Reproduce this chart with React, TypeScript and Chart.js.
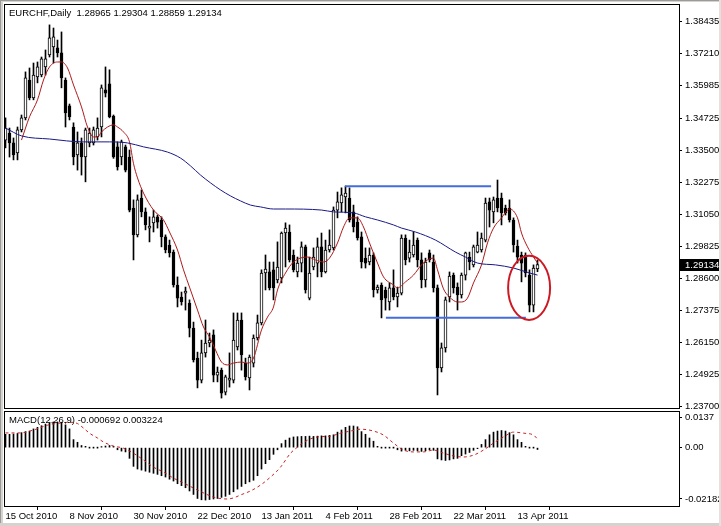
import React, { useEffect, useRef } from 'react';
import { Chart, registerables } from 'chart.js';

Chart.register(...registerables);

const SYMBOL = 'EURCHF';
const TIMEFRAME = 'Daily';
const MACD_NAME = 'MACD(12,26,9)';

const OPEN = [
  1.3390, 1.3417, 1.3379, 1.3341, 1.3429, 1.3475, 1.3620, 1.3551, 1.3632, 1.3639,
  1.3670, 1.3716, 1.3747, 1.3743, 1.3724, 1.3620, 1.3521, 1.3440, 1.3333, 1.3379,
  1.3325, 1.3379, 1.3379, 1.3402, 1.3440, 1.3582, 1.3605, 1.3482, 1.3364, 1.3325,
  1.3364, 1.3325, 1.3130, 1.3027, 1.3168, 1.3115, 1.3053, 1.3073, 1.3096, 1.3084,
  1.3019, 1.2988, 1.2961, 1.2835, 1.2789, 1.2804, 1.2766, 1.2670, 1.2555, 1.2471,
  1.2575, 1.2613, 1.2644, 1.2490, 1.2509, 1.2425, 1.2471, 1.2471, 1.2598, 1.2701,
  1.2536, 1.2479, 1.2536, 1.2632, 1.2690, 1.2881, 1.2885, 1.2893, 1.2854, 1.2862,
  1.3034, 1.3038, 1.2950, 1.2885, 1.2919, 1.2981, 1.2785, 1.2904, 1.2919, 1.2981,
  1.2885, 1.2969, 1.2977, 1.3122, 1.3149, 1.3172, 1.3168, 1.3115, 1.3076, 1.3019,
  1.2938, 1.2923, 1.2950, 1.2816, 1.2835, 1.2816, 1.2770, 1.2824, 1.2789, 1.2804,
  1.3015, 1.2938, 1.2950, 1.3007, 1.2931, 1.2854, 1.2958, 1.2923, 1.2824, 1.2517,
  1.2594, 1.2789, 1.2873, 1.2827, 1.2797, 1.2873, 1.2942, 1.2912, 1.2961, 1.2969,
  1.3007, 1.3153, 1.3115, 1.3168, 1.3168, 1.3130, 1.3130, 1.3084, 1.2984, 1.2950,
  1.2950, 1.2873, 1.2758, 1.28965,
];
const HIGH = [
  1.3475, 1.3436, 1.3398, 1.3440, 1.3486, 1.3651, 1.3666, 1.3685, 1.3689, 1.3708,
  1.3735, 1.3831, 1.3819, 1.3773, 1.3804, 1.3628, 1.3528, 1.3456, 1.3421, 1.3398,
  1.3436, 1.3436, 1.3440, 1.3475, 1.3601, 1.3670, 1.3659, 1.3486, 1.3383, 1.3390,
  1.3371, 1.3352, 1.3161, 1.3180, 1.3199, 1.3130, 1.3096, 1.3122, 1.3103, 1.3096,
  1.3027, 1.3007, 1.2969, 1.2866, 1.2808, 1.2827, 1.2778, 1.2693, 1.2578, 1.2624,
  1.2701, 1.2651, 1.2663, 1.2521, 1.2517, 1.2490, 1.2575, 1.2728, 1.2728, 1.2728,
  1.2555, 1.2567, 1.2644, 1.2720, 1.2893, 1.2950, 1.2923, 1.2923, 1.3000, 1.3038,
  1.3073, 1.3065, 1.2969, 1.2942, 1.3000, 1.2988, 1.2942, 1.2977, 1.3015, 1.3034,
  1.3007, 1.3046, 1.3134, 1.3191, 1.3207, 1.3214, 1.3207, 1.3141, 1.3096, 1.3038,
  1.2977, 1.2977, 1.2958, 1.2835, 1.2843, 1.2827, 1.2843, 1.2893, 1.2827, 1.3027,
  1.3027, 1.3007, 1.3038, 1.3015, 1.2958, 1.2938, 1.2969, 1.2950, 1.2835, 1.2613,
  1.2789, 1.2885, 1.2881, 1.2843, 1.2881, 1.2961, 1.2961, 1.2988, 1.3038, 1.3034,
  1.3168, 1.3168, 1.3172, 1.3237, 1.3187, 1.3141, 1.3161, 1.3092, 1.3007, 1.2961,
  1.2958, 1.2893, 1.2912, 1.29304,
];
const LOW = [
  1.3360, 1.3325, 1.3314, 1.3314, 1.3421, 1.3467, 1.3544, 1.3544, 1.3609, 1.3632,
  1.3639, 1.3708, 1.3685, 1.3708, 1.3590, 1.3440, 1.3467, 1.3295, 1.3275, 1.3256,
  1.3230, 1.3364, 1.3371, 1.3390, 1.3402, 1.3555, 1.3475, 1.3320, 1.3275, 1.3295,
  1.3268, 1.3115, 1.2931, 1.3019, 1.3096, 1.3046, 1.3000, 1.3038, 1.3053, 1.2981,
  1.2958, 1.2942, 1.2827, 1.2751, 1.2758, 1.2739, 1.2636, 1.2540, 1.2441, 1.2460,
  1.2559, 1.2598, 1.2464, 1.2464, 1.2402, 1.2414, 1.2444, 1.2460, 1.2586, 1.2509,
  1.2471, 1.2433, 1.2521, 1.2624, 1.2682, 1.2816, 1.2816, 1.2778, 1.2843, 1.2843,
  1.2904, 1.2923, 1.2885, 1.2866, 1.2885, 1.2804, 1.2778, 1.2893, 1.2866, 1.2866,
  1.2881, 1.2961, 1.2969, 1.3092, 1.3115, 1.3111, 1.3076, 1.3038, 1.3007, 1.2900,
  1.2900, 1.2912, 1.2789, 1.2804, 1.2709, 1.2739, 1.2739, 1.2778, 1.2751, 1.2797,
  1.2912, 1.2923, 1.2942, 1.2904, 1.2824, 1.2827, 1.2923, 1.2808, 1.2414, 1.2502,
  1.2578, 1.2770, 1.2804, 1.2739, 1.2785, 1.2854, 1.2893, 1.2904, 1.2958, 1.2961,
  1.3000, 1.3057, 1.3073, 1.3115, 1.3065, 1.3103, 1.3076, 1.2961, 1.2919, 1.2847,
  1.2866, 1.2732, 1.2732, 1.28859,
];
const CLOSE = [
  1.3436, 1.3379, 1.3333, 1.3429, 1.3475, 1.3628, 1.3551, 1.3639, 1.3670, 1.3701,
  1.3701, 1.3781, 1.3785, 1.3724, 1.3628, 1.3494, 1.3479, 1.3325, 1.3379, 1.3325,
  1.3429, 1.3417, 1.3429, 1.3436, 1.3590, 1.3570, 1.3479, 1.3325, 1.3287, 1.3383,
  1.3275, 1.3122, 1.3027, 1.3161, 1.3115, 1.3065, 1.3061, 1.3096, 1.3076, 1.3019,
  1.2969, 1.2958, 1.2835, 1.2785, 1.2770, 1.2812, 1.2670, 1.2548, 1.2471, 1.2575,
  1.2613, 1.2624, 1.2490, 1.2502, 1.2421, 1.2483, 1.2479, 1.2624, 1.2701, 1.2567,
  1.2483, 1.2559, 1.2632, 1.2690, 1.2881, 1.2896, 1.2824, 1.2824, 1.2904, 1.3034,
  1.3053, 1.2931, 1.2893, 1.2919, 1.2981, 1.2816, 1.2881, 1.2942, 1.2981, 1.2885,
  1.2969, 1.2988, 1.3122, 1.3153, 1.3180, 1.3187, 1.3084, 1.3057, 1.3015, 1.2923,
  1.2919, 1.2950, 1.2816, 1.2827, 1.2778, 1.2785, 1.2824, 1.2789, 1.2804, 1.3015,
  1.2931, 1.2961, 1.2988, 1.2931, 1.2854, 1.2923, 1.2931, 1.2824, 1.2517, 1.2594,
  1.2778, 1.2869, 1.2824, 1.2797, 1.2873, 1.2958, 1.2923, 1.2981, 1.2988, 1.3015,
  1.3149, 1.3122, 1.3161, 1.3130, 1.3111, 1.3111, 1.3084, 1.2988, 1.2942, 1.2919,
  1.2881, 1.2758, 1.2900, 1.29134,
];

// fast moving average (red), read at sample bars
const RED_MA_BAR = [
  4, 5, 6, 8, 9.5, 11, 13, 14, 15.5, 17, 19, 20.5, 22, 23, 24, 25.5, 27, 28, 29.5, 31,
  32, 33, 34.5, 37, 39.5, 41, 43, 44.5, 46, 48, 49.5, 51, 52.5, 54, 55.5, 57, 59, 60.5, 62, 64,
  65.5, 67, 68, 70, 72, 75.5, 77.5, 79.5, 81, 83, 84.5, 86, 88, 89.5, 91, 93, 94.5, 97, 98, 100,
  102, 104, 105.5, 107, 108, 109.5, 111, 113, 114, 115.5, 117, 119, 120.5, 122, 124, 125.5, 126, 128, 129, 130.5,
  132, 133,
];
const RED_MA_VAL = [
  1.3390, 1.3436, 1.3479, 1.3544, 1.3620, 1.3670, 1.3689, 1.3689, 1.3666, 1.3601,
  1.3517, 1.3440, 1.3402, 1.3402, 1.3421, 1.3440, 1.3448, 1.3440, 1.3421, 1.3383,
  1.3300, 1.3245, 1.3187, 1.3122, 1.3084, 1.3038, 1.2969, 1.2893, 1.2827, 1.2739,
  1.2674, 1.2636, 1.2586, 1.2540, 1.2529, 1.2536, 1.2540, 1.2536, 1.2555, 1.2663,
  1.2712, 1.2751, 1.2816, 1.2881, 1.2923, 1.2942, 1.2931, 1.2923, 1.2938, 1.2996,
  1.3057, 1.3092, 1.3092, 1.3057, 1.2996, 1.2919, 1.2866, 1.2835, 1.2824, 1.2847,
  1.2873, 1.2912, 1.2931, 1.2938, 1.2893, 1.2820, 1.2789, 1.2770, 1.2770, 1.2785,
  1.2843, 1.2912, 1.2996, 1.3053, 1.3092, 1.3122, 1.3126, 1.3092, 1.3034, 1.2981,
  1.2942, 1.2919,
];

// slow moving average (navy), read at sample bars
const BLUE_MA_BAR = [
  0, 4, 11, 19.5, 26, 30.5, 34.5, 40.5, 43.75, 46.25, 48.75, 51.25, 53.75, 56.25, 58.75,
  61.25, 63.75, 67, 70, 79, 82, 87, 90, 93, 97, 99, 102.5, 107.5, 112.5, 115, 118, 122.5,
  127, 131, 133,
];
const BLUE_MA_VAL = [
  1.3436, 1.3406, 1.3394, 1.3383, 1.3383, 1.3379, 1.3364, 1.3344, 1.3321, 1.3291,
  1.3256, 1.3226, 1.3199, 1.3176, 1.3157, 1.3141, 1.3134, 1.3126, 1.3126, 1.3122,
  1.3115, 1.3111, 1.3096, 1.3084, 1.3065, 1.3053, 1.3038, 1.3007, 1.2961, 1.2942,
  1.2919, 1.2912, 1.2900, 1.2881, 1.2873,
];

// hand-drawn horizontal lines
const RESISTANCE_BARS = [84.9, 121.4];
const RESISTANCE_PRICE = 1.3213;
const SUPPORT_BARS = [95.1, 130.1];
const SUPPORT_PRICE = 1.2710;

// hand-drawn ellipse
const ELLIPSE_CENTER_BAR = 130.9;
const ELLIPSE_CENTER_PRICE = 1.2824;
const ELLIPSE_HALF_BARS = 5.25;
const ELLIPSE_HALF_PRICE = 0.01226;

const PRICE_MIN = 1.2364;
const PRICE_MAX = 1.3911;
const PRICE_TICKS = [
  1.38435, 1.3721, 1.35985, 1.34725, 1.335, 1.32275, 1.3105, 1.29825, 1.286, 1.27375,
  1.2615, 1.24925, 1.237,
];
const PRICE_TICK_LABELS = [
  '1.38435', '1.37210', '1.35985', '1.34725', '1.33500', '1.32275', '1.31050', '1.29825',
  '1.28600', '1.27375', '1.26150', '1.24925', '1.23700',
];

const DATE_TICK_BARS = [0, 16, 32, 48, 64, 80, 96, 112, 128];
const DATE_LABELS = [
  '15 Oct 2010', '8 Nov 2010', '30 Nov 2010', '22 Dec 2010', '13 Jan 2011', '4 Feb 2011',
  '28 Feb 2011', '22 Mar 2011', '13 Apr 2011',
];

const MACD_HIST = [
  0.0050, 0.0050, 0.0051, 0.0053, 0.0056, 0.0060, 0.0062, 0.0070, 0.0076, 0.0082,
  0.0088, 0.0093, 0.0096, 0.0096, 0.0095, 0.0085, 0.0070, 0.0030, 0.0020, 0.0008,
  0.0005, 0.0001, -0.0002, 0.0002, 0.0004, 0.0006, 0.0008, 0.0005, -0.0008, -0.0013,
  -0.0016, -0.0040, -0.0070, -0.0080, -0.0084, -0.0088, -0.0092, -0.0096, -0.0100, -0.0105,
  -0.0110, -0.0118, -0.0125, -0.0135, -0.0142, -0.0150, -0.0162, -0.0175, -0.0190, -0.0195,
  -0.0196, -0.0194, -0.0192, -0.0190, -0.0186, -0.0182, -0.0175, -0.0165, -0.0155, -0.0145,
  -0.0135, -0.0128, -0.0122, -0.0105, -0.0080, -0.0060, -0.0045, -0.0025, -0.0008, 0.0015,
  0.0028, 0.0036, 0.0040, 0.0041, 0.0042, 0.0042, 0.0043, 0.0042, 0.0043, 0.0044,
  0.0044, 0.0046, 0.0048, 0.0058, 0.0066, 0.0076, 0.0081, 0.0081, 0.0078, 0.0060,
  0.0050, 0.0036, 0.0024, 0.0005, 0.0003, 0.0002, 0.0002, 0.0001, -0.0008, -0.0013,
  -0.0010, -0.0012, -0.0010, -0.0012, -0.0014, -0.0012, -0.0008, -0.0010, -0.0042, -0.0046,
  -0.0048, -0.0046, -0.0042, -0.0040, -0.0030, -0.0024, -0.0018, -0.0010, -0.0004, 0.0012,
  0.0030, 0.0048, 0.0058, 0.0062, 0.0064, 0.0062, 0.0056, 0.0048, 0.0030, 0.0020,
  0.0005, 0.0002, 0.0003, -0.000692,
];
const MACD_SIGNAL_BAR = [
  0, 3.75, 7, 10.5, 13.75, 16, 18, 19.5, 21, 23, 24.5, 27, 29.5, 32, 34.5, 37, 39.5, 42, 44.5, 47,
  49.6, 52, 55.4, 57, 58.75, 61.25, 63.75, 66.25, 68.75, 71.25, 73, 75.5, 78, 81.25, 83.75,
  86.25, 88.75, 92, 94.5, 97, 99.5, 102, 104.5, 107, 109.6, 112, 114.5, 117, 119.5, 122,
  124.5, 127, 129.6, 132, 133,
];
const MACD_SIGNAL_VAL = [
  0.0055, 0.0055, 0.0066, 0.0084, 0.0092, 0.0095, 0.0090, 0.0073, 0.0054, 0.0036,
  0.0021, 0.0006, -0.0002, -0.0021, -0.0046, -0.0073, -0.0091, -0.0114, -0.0132, -0.0151,
  -0.0170, -0.0185, -0.0192, -0.0188, -0.0177, -0.0162, -0.0140, -0.0110, -0.0073, -0.0021,
  0.0002, 0.0028, 0.0040, 0.0043, 0.0054, 0.0062, 0.0069, 0.0062, 0.0047, 0.0017,
  -0.0009, -0.0016, -0.0016, -0.0009, -0.0021, -0.0031, -0.0035, -0.0028, -0.0009, 0.0017,
  0.0040, 0.0058, 0.0054, 0.0047, 0.003224,
];
const MACD_MAX = 0.0137;
const MACD_MIN = -0.02182;
const MACD_TICK_LABELS = ['0.0137', '0.00', '-0.02182'];

// visible bar window (4 px per bar across the 675 px plot)
const X_MIN = -0.375;
const X_MAX = 168.375;

const FONT_FAMILY = '"Liberation Sans", Arial, sans-serif';
const FONT = { family: FONT_FAMILY, size: 9.5 };
const AXIS_WIDTH = 42;

const framePlugin = {
  id: 'frame',
  afterDatasetsDraw(chart: any) {
    const { ctx, chartArea } = chart;
    ctx.save();
    ctx.strokeStyle = '#000';
    ctx.lineWidth = 1;
    ctx.strokeRect(chartArea.left + 0.5, chartArea.top + 0.5, chartArea.right - chartArea.left, chartArea.bottom - chartArea.top);
    ctx.restore();
  },
};

const ellipsePlugin = {
  id: 'ellipseMark',
  afterDatasetsDraw(chart: any) {
    const { ctx, scales } = chart;
    const cx = scales.x.getPixelForValue(ELLIPSE_CENTER_BAR);
    const cy = scales.y.getPixelForValue(ELLIPSE_CENTER_PRICE);
    const rx = Math.abs(scales.x.getPixelForValue(ELLIPSE_CENTER_BAR + ELLIPSE_HALF_BARS) - cx);
    const ry = Math.abs(scales.y.getPixelForValue(ELLIPSE_CENTER_PRICE + ELLIPSE_HALF_PRICE) - cy);
    ctx.save();
    ctx.strokeStyle = 'rgb(205,25,35)';
    ctx.lineWidth = 2;
    ctx.beginPath();
    ctx.ellipse(cx, cy, rx, ry, 0, 0, Math.PI * 2);
    ctx.stroke();
    ctx.restore();
  },
};

const lastPricePlugin = {
  id: 'lastPrice',
  afterDraw(chart: any) {
    const { ctx, chartArea, scales } = chart;
    const v = CLOSE[CLOSE.length - 1];
    const y = Math.round(scales.y.getPixelForValue(v));
    ctx.save();
    ctx.fillStyle = '#000';
    ctx.fillRect(chartArea.right + 1, y - 6, chart.width - chartArea.right - 1, 12);
    ctx.fillStyle = '#fff';
    ctx.font = `${FONT.size}px ${FONT_FAMILY}`;
    ctx.textAlign = 'left';
    ctx.textBaseline = 'middle';
    ctx.fillText(v.toFixed(5), chartArea.right + 6, y);
    ctx.restore();
  },
};

function mainConfig(): any {
  const bodyColors = CLOSE.map((c, i) => (c >= OPEN[i] ? '#ffffff' : '#000000'));
  return {
    type: 'bar',
    data: {
      datasets: [
        {
          type: 'line',
          data: [
            { x: RESISTANCE_BARS[0], y: RESISTANCE_PRICE },
            { x: RESISTANCE_BARS[1], y: RESISTANCE_PRICE },
          ],
          borderColor: 'rgb(68,108,218)',
          borderWidth: 2,
          pointRadius: 0,
          order: -3,
        },
        {
          type: 'line',
          data: [
            { x: SUPPORT_BARS[0], y: SUPPORT_PRICE },
            { x: SUPPORT_BARS[1], y: SUPPORT_PRICE },
          ],
          borderColor: 'rgb(68,108,218)',
          borderWidth: 2,
          pointRadius: 0,
          order: -3,
        },
        {
          type: 'line',
          data: RED_MA_BAR.map((x, i) => ({ x, y: RED_MA_VAL[i] })),
          borderColor: 'rgb(175,25,25)',
          borderWidth: 1,
          pointRadius: 0,
          cubicInterpolationMode: 'monotone',
          order: -1,
        },
        {
          type: 'line',
          data: BLUE_MA_BAR.map((x, i) => ({ x, y: BLUE_MA_VAL[i] })),
          borderColor: 'rgb(25,25,135)',
          borderWidth: 1,
          pointRadius: 0,
          cubicInterpolationMode: 'monotone',
          order: -2,
        },
        {
          type: 'bar',
          data: OPEN.map((o, i) => ({ x: i, y: [o, CLOSE[i]] })),
          backgroundColor: bodyColors,
          borderColor: '#000',
          borderWidth: 1,
          borderSkipped: false,
          barThickness: 3,
          minBarLength: 1,
          grouped: false,
          order: 0,
        },
        {
          type: 'bar',
          data: HIGH.map((h, i) => ({ x: i, y: [LOW[i], h] })),
          backgroundColor: '#000',
          borderWidth: 0,
          barThickness: 1,
          grouped: false,
          order: 1,
        },
      ],
    },
    options: {
      animation: false,
      responsive: false,
      events: [],
      layout: { padding: { left: 4, top: 4, right: 0, bottom: 6 }, autoPadding: false },
      plugins: { legend: { display: false }, tooltip: { enabled: false }, title: { display: false } },
      scales: {
        x: { type: 'linear', min: X_MIN, max: X_MAX, display: false, offset: false },
        y: {
          type: 'linear',
          position: 'right',
          min: PRICE_MIN,
          max: PRICE_MAX,
          afterBuildTicks: (s: any) => {
            s.ticks = PRICE_TICKS.map((v) => ({ value: v }));
          },
          afterFit: (s: any) => {
            s.width = AXIS_WIDTH;
            s.paddingTop = 0;
            s.paddingBottom = 0;
          },
          ticks: {
            callback: (_v: any, i: number) => PRICE_TICK_LABELS[i],
            autoSkip: false,
            padding: 3,
            color: '#000',
            font: FONT,
          },
          grid: { drawOnChartArea: false, tickLength: 3, color: '#000' },
          border: { display: false },
        },
      },
    },
    plugins: [framePlugin, ellipsePlugin, lastPricePlugin],
  };
}

function macdConfig(): any {
  return {
    type: 'bar',
    data: {
      datasets: [
        {
          type: 'line',
          data: MACD_SIGNAL_BAR.map((x, i) => ({ x, y: MACD_SIGNAL_VAL[i] })),
          borderColor: 'rgb(200,35,35)',
          borderWidth: 1,
          borderDash: [3, 3],
          pointRadius: 0,
          cubicInterpolationMode: 'monotone',
          order: -1,
        },
        {
          type: 'bar',
          data: MACD_HIST.map((v, i) => ({ x: i, y: [0, v] })),
          backgroundColor: '#000',
          borderWidth: 0,
          barThickness: 1,
          minBarLength: 1,
          grouped: false,
          order: 0,
        },
      ],
    },
    options: {
      animation: false,
      responsive: false,
      events: [],
      layout: { padding: { left: 4, top: 6, right: 0, bottom: 0 }, autoPadding: false },
      plugins: { legend: { display: false }, tooltip: { enabled: false }, title: { display: false } },
      scales: {
        x: {
          type: 'linear',
          min: X_MIN,
          max: X_MAX,
          offset: false,
          afterBuildTicks: (s: any) => {
            s.ticks = DATE_TICK_BARS.map((v) => ({ value: v }));
          },
          afterFit: (s: any) => {
            s.height = 20;
            s.paddingLeft = 0;
            s.paddingRight = 0;
          },
          ticks: {
            callback: (_v: any, i: number) => DATE_LABELS[i],
            align: 'start',
            autoSkip: false,
            maxRotation: 0,
            minRotation: 0,
            padding: 1,
            color: '#000',
            font: FONT,
          },
          grid: { drawOnChartArea: false, tickLength: 4, color: '#000' },
          border: { display: false },
        },
        y: {
          type: 'linear',
          position: 'right',
          min: MACD_MIN,
          max: MACD_MAX,
          afterBuildTicks: (s: any) => {
            const range = MACD_MAX - MACD_MIN;
            s.ticks = [
              { value: MACD_MAX - range * 0.065 },
              { value: 0 },
              { value: MACD_MIN + range * 0.075 },
            ];
          },
          afterFit: (s: any) => {
            s.width = AXIS_WIDTH;
            s.paddingTop = 0;
            s.paddingBottom = 0;
          },
          ticks: {
            callback: (_v: any, i: number) => MACD_TICK_LABELS[i],
            autoSkip: false,
            padding: 3,
            color: '#000',
            font: FONT,
          },
          grid: { drawOnChartArea: false, tickLength: 3, color: '#000' },
          border: { display: false },
        },
      },
    },
    plugins: [framePlugin],
  };
}

export default function App() {
  const mainRef = useRef<HTMLCanvasElement>(null);
  const macdRef = useRef<HTMLCanvasElement>(null);

  useEffect(() => {
    const main = new Chart(mainRef.current as HTMLCanvasElement, mainConfig());
    const macd = new Chart(macdRef.current as HTMLCanvasElement, macdConfig());
    return () => {
      main.destroy();
      macd.destroy();
    };
  }, []);

  const last = CLOSE.length - 1;
  const title = `${SYMBOL},${TIMEFRAME}  ${OPEN[last].toFixed(5)} ${HIGH[last].toFixed(5)} ${LOW[last].toFixed(5)} ${CLOSE[last].toFixed(5)}`;
  const macdTitle = `${MACD_NAME} ${MACD_HIST[MACD_HIST.length - 1].toFixed(6)} ${MACD_SIGNAL_VAL[MACD_SIGNAL_VAL.length - 1].toFixed(6)}`;

  const textStyle: React.CSSProperties = {
    position: 'absolute',
    left: 9,
    font: `9.5px ${FONT_FAMILY}`,
    lineHeight: '12px',
    color: '#000',
    whiteSpace: 'pre',
    pointerEvents: 'none',
  };

  return (
    <div style={{ position: 'absolute', left: 0, top: 0, width: 721, height: 526, background: '#fff', overflow: 'hidden' }}>
      <canvas ref={mainRef} width={721} height={414} style={{ position: 'absolute', left: 0, top: 0, width: 721, height: 414 }} />
      <canvas ref={macdRef} width={721} height={121} style={{ position: 'absolute', left: 0, top: 405, width: 721, height: 121 }} />
      <div style={{ ...textStyle, top: 7 }}>{title}</div>
      <div style={{ ...textStyle, top: 414 }}>{macdTitle}</div>
      <div style={{ position: 'absolute', left: 0, top: 0, width: 1, height: 526, background: '#9a9a9a' }} />
      <div style={{ position: 'absolute', left: 1, top: 1, width: 2, height: 525, background: '#d6d3ce' }} />
      <div style={{ position: 'absolute', left: 0, top: 0, width: 721, height: 1, background: '#9a9a9a' }} />
      <div style={{ position: 'absolute', left: 1, top: 1, width: 720, height: 1, background: '#d6d3ce' }} />
      <div style={{ position: 'absolute', left: 0, top: 523, width: 721, height: 3, background: '#d6d3ce' }} />
      <div style={{ position: 'absolute', left: 719, top: 0, width: 2, height: 526, background: '#e4e2de' }} />
    </div>
  );
}
